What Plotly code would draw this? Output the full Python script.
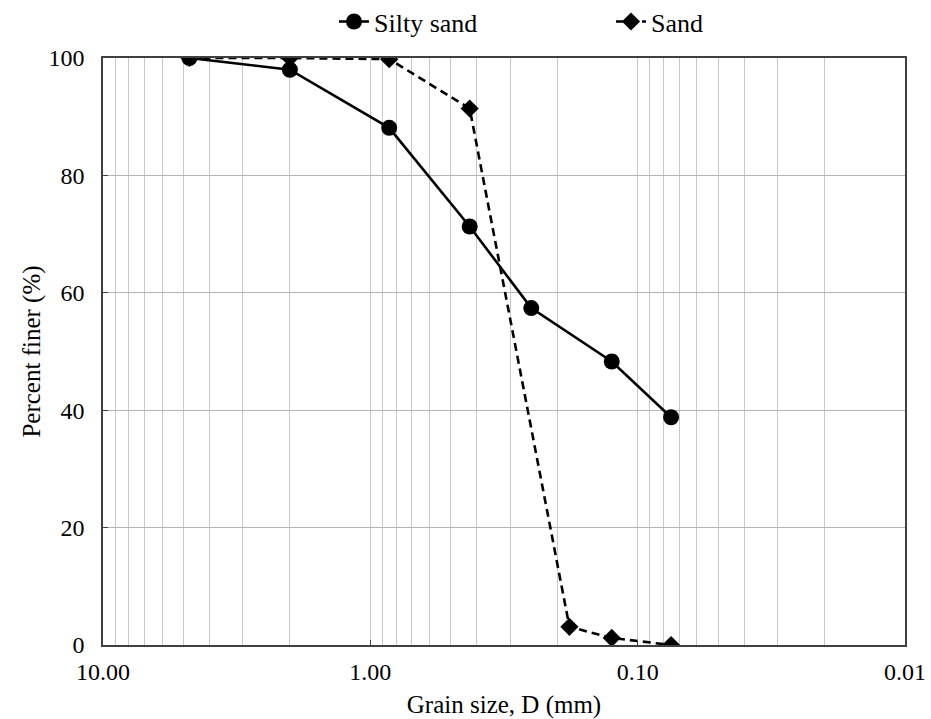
import plotly.graph_objects as go

# Data (grain size in mm, percent finer)
silty_d = [4.75, 2.0, 0.85, 0.425, 0.25, 0.125, 0.075]
silty_p = [100, 98.0, 88.1, 71.3, 57.4, 48.3, 38.8]
sand_d = [4.75, 2.0, 0.85, 0.425, 0.18, 0.125, 0.075]
sand_p = [100, 100, 99.8, 91.4, 3.1, 1.2, 0.0]

x_ticks = [10, 1, 0.1, 0.01]
x_ticktext = ["10.00", "1.00", "0.10", "0.01"]
y_ticks = [0, 20, 40, 60, 80, 100]

minor_vals = [m * d for d in [1, 0.1, 0.01] for m in range(2, 10)]

def f(size=24, fam="Liberation Serif"):
    return dict(family=fam, size=size, color="black")

fig = go.Figure()
fig.add_trace(go.Scatter(
    x=silty_d, y=silty_p, name="Silty sand", mode="lines+markers",
    line=dict(color="black", width=2.6),
    marker=dict(symbol="circle", size=16, color="black"),
))
fig.add_trace(go.Scatter(
    x=sand_d, y=sand_p, name="Sand", mode="lines+markers",
    line=dict(color="black", width=2.6, dash="8px,5px"),
    marker=dict(symbol="diamond", size=14, color="black"),
))

fig.update_layout(
    template="none",
    width=931, height=719,
    margin=dict(l=103, r=26, t=58, b=74, autoexpand=False),
    paper_bgcolor="white", plot_bgcolor="white",
    font=f(25),
    showlegend=True,
    legend=dict(orientation="h", x=(334 - 103) / 802, xanchor="left", y=1.062, yanchor="middle",
                font=f(26), entrywidth=232, entrywidthmode="pixels",
                traceorder="normal", bgcolor="rgba(0,0,0,0)"),
)
fig.update_xaxes(
    type="log", range=[1, -2], autorange=False,
    tickmode="array", tickvals=x_ticks, ticktext=x_ticktext,
    ticks="inside", ticklen=5, tickcolor="#404040",
    showgrid=True, gridcolor="#c8c8c8", gridwidth=1,
    minor=dict(tickvals=minor_vals, showgrid=True, gridcolor="#c8c8c8", gridwidth=1, ticks=""),
    showline=True, linecolor="#404040", linewidth=1.5, mirror=True,
    zeroline=False,
    title=dict(text="Grain size, D (mm)", font=f(25), standoff=13),
    tickfont=f(24),
    ticklabelstandoff=4,
    automargin=False,
)
fig.update_yaxes(
    range=[0, 100], autorange=False,
    tickmode="array", tickvals=y_ticks,
    ticks="inside", ticklen=5, tickcolor="#404040",
    showgrid=True, gridcolor="#b4b4b4", gridwidth=1,
    showline=True, linecolor="#404040", linewidth=1.5, mirror=True,
    zeroline=False,
    title=dict(text="Percent finer (%)", font=f(25), standoff=1),
    tickfont=f(24),
    ticklabelstandoff=12,
    automargin=False,
)

fig.write_html("out.html")
